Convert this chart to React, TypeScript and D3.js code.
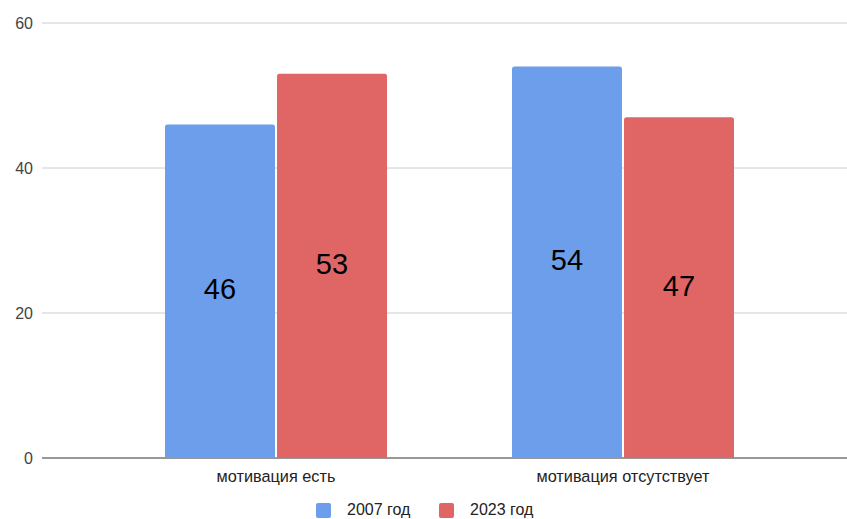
import React from 'react';
import * as d3 from 'd3';

const categories = ['мотивация есть', 'мотивация отсутствует'];
const seriesNames = ['2007 год', '2023 год'];
const values2007 = [46, 54];
const values2023 = [53, 47];
const yTicks = [0, 20, 40, 60];

const colors = ['#6d9eeb', '#e06666'];

const W = 847;
const H = 519;

const App = () => {
  const y = d3.scaleLinear().domain([0, 60]).range([458, 23]);
  const x = d3.scaleBand<string>().domain(categories).range([102.5, 796.5]).paddingInner(0).paddingOuter(0);
  const sub = d3.scaleBand<string>().domain(seriesNames).range([0, 222]).paddingInner(0.018);

  const series = [values2007, values2023];
  const groupW = 222;

  // bar path with rounded top corners
  const barPath = (x0: number, y0: number, w: number, h: number) => {
    const r = 2.5;
    const p = d3.path();
    p.moveTo(x0, y0 + h);
    p.lineTo(x0, y0 + r);
    p.quadraticCurveTo(x0, y0, x0 + r, y0);
    p.lineTo(x0 + w - r, y0);
    p.quadraticCurveTo(x0 + w, y0, x0 + w, y0 + r);
    p.lineTo(x0 + w, y0 + h);
    p.closePath();
    return p.toString();
  };

  const font = 'Arial, "Liberation Sans", sans-serif';

  return (
    <svg width={W} height={H} style={{ position: 'absolute', left: 0, top: 0, background: '#fff' }} fontFamily={font}>
      {yTicks.map((t) => (
        <g key={t}>
          <line x1={42} x2={847} y1={y(t)} y2={y(t)} stroke={t === 0 ? '#333' : '#ccc'} strokeWidth={1} />
          <text x={33} y={y(t)} dy="0.35em" textAnchor="end" fontSize={16} fill="#444">{t}</text>
        </g>
      ))}
      {categories.map((c, i) => {
        const gx = x(c)! + x.bandwidth() / 2 - groupW / 2;
        return (
          <g key={c}>
            {seriesNames.map((s, j) => {
              const v = series[j][i];
              const bx = gx + sub(s)!;
              const bw = sub.bandwidth();
              const top = y(v);
              return (
                <g key={s}>
                  <path d={barPath(bx, top, bw, y(0) - top)} fill={colors[j]} />
                  <text x={bx + bw / 2} y={(top + y(0)) / 2 - 2} dy="0.35em" textAnchor="middle" fontSize={29} fill="#000">{v}</text>
                </g>
              );
            })}
            <text x={x(c)! + x.bandwidth() / 2} y={476} dy="0.35em" textAnchor="middle" fontSize={16.3} fill="#222">{c}</text>
          </g>
        );
      })}
      {seriesNames.map((s, j) => {
        const lx = [316, 439][j];
        return (
          <g key={s}>
            <rect x={lx} y={503} width={15} height={15} rx={2} fill={colors[j]} />
            <text x={lx + 31} y={509} dy="0.35em" fontSize={16} fill="#222">{s}</text>
          </g>
        );
      })}
    </svg>
  );
};

export default App;
